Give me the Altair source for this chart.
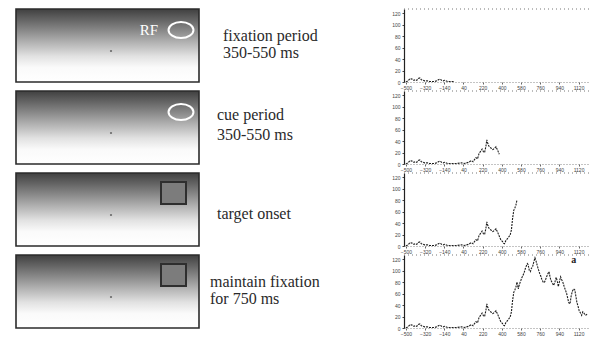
import altair as alt
import pandas as pd

# ---- data ----
times = [-500, -480, -460, -442, -425, -410, -398, -385, -369, -355, -340, -325, -300, -280,
         -252, -230, -210, -195, -179, -165, -150, -135, -110, -80, -50, -18, 20, 50, 69, 90,
         113, 130, 145, 157, 172, 186, 200, 215, 228, 238, 250, 259, 268, 279, 290, 303, 315,
         332, 345, 355, 365, 376, 390, 405, 415, 425, 437, 449, 462, 478, 490, 501, 512, 522,
         532, 542, 555, 565, 577, 589, 600, 609, 620, 630, 640, 647, 658, 668, 678, 688, 700,
         711, 722, 732, 743, 755, 766, 776, 788, 799, 810, 822, 833, 843, 853, 863, 875, 886,
         898, 910, 920, 930, 940, 951, 962, 974, 985, 997, 1008, 1018, 1028, 1040, 1050, 1062,
         1073, 1085, 1095, 1105, 1115, 1126, 1138, 1149, 1160, 1170, 1185, 1200]
rates = [0, 2, 6, 5, 3, 4, 3, 6, 7, 4, 3, 2, 2, 1,
         1, 1, 2, 4, 5, 3, 2, 3, 1, 1, 1, 1, 2, 1, 2, 3,
         6, 4, 8, 11, 9, 18, 22, 26, 21, 20, 30, 42, 36, 31, 29, 27, 25,
         27, 30, 26, 22, 17, 11, 8, 5, 4, 9, 12, 15, 19, 28, 48, 62, 66,
         71, 80, 68, 76, 82, 88, 92, 96, 103, 108, 112, 110, 100, 98, 104, 106, 115,
         122, 116, 109, 102, 95, 90, 84, 80, 79, 84, 90, 95, 98, 88, 82, 78, 74,
         80, 88, 82, 72, 80, 89, 84, 79, 72, 66, 60, 52, 44, 42, 55, 64,
         68, 66, 55, 44, 38, 30, 26, 22, 28, 26, 22, 24]
panel_end = [-40, 380, 542, 1200]
panel_text = ["fixation period\n350-550 ms", "cue period\n350-550 ms",
              "target onset", "maintain fixation\nfor 750 ms"]
panel_marker = ["circle", "circle", "square", "square"]
rf_label = ["RF", "", "", ""]
corner_label = ["", "", "", "a"]
y_ticks = [0, 20, 40, 60, 80, 100, 120]
x_ticks = [-500, -320, -140, 40, 220, 400, 580, 760, 940, 1120]

df = pd.DataFrame({"t": times, "r": rates})

# ---- layout constants ----
W_L, H = 380, 73
PLOT_W = 185
text_x = [215, 209, 209, 202]
text_y = [19, 16, 33, 19]
text_lh = [17, 20, 17, 17]

ELLIPSE = "M-1,0A1,0.64,0,1,0,1,0A1,0.64,0,1,0,-1,0Z"

grad = alt.Gradient(
    gradient="linear",
    stops=[alt.GradientStop(color="#404040", offset=0),
           alt.GradientStop(color="#767676", offset=0.22),
           alt.GradientStop(color="#b0b0b0", offset=0.45),
           alt.GradientStop(color="#e2e2e2", offset=0.65),
           alt.GradientStop(color="#fafafa", offset=0.8),
           alt.GradientStop(color="#ffffff", offset=1)],
    x1=0, x2=0, y1=0, y2=1)


def illus(i):
    base = alt.Chart(pd.DataFrame({"label": [panel_text[i]], "rf": [rf_label[i]]}))
    box = base.mark_rect(fill=grad, stroke="#2b2b2b", strokeWidth=1.6).encode(
        x=alt.value(8), x2=alt.value(191), y=alt.value(0), y2=alt.value(H))
    dot = base.mark_point(filled=True, color="#6a6a6a", size=5, opacity=1).encode(
        x=alt.value(103), y=alt.value(42))
    layers = [box, dot]
    if panel_marker[i] == "circle":
        layers.append(base.mark_point(shape=ELLIPSE, size=625, filled=False,
                                      stroke="white", strokeWidth=2, opacity=1).encode(
            x=alt.value(173), y=alt.value(21)))
    else:
        layers.append(base.mark_rect(fill="#7c7c7c", stroke="#2e2e2e", strokeWidth=2).encode(
            x=alt.value(153), x2=alt.value(178), y=alt.value(9), y2=alt.value(31)))
    if rf_label[i]:
        layers.append(base.mark_text(font="Liberation Serif", fontSize=15, color="white",
                                     align="center", baseline="middle").encode(
            x=alt.value(141), y=alt.value(21), text="rf:N"))
    layers.append(base.mark_text(font="Liberation Serif", fontSize=16, color="#2a2a2a",
                                 align="left", baseline="top", lineBreak="\n",
                                 lineHeight=text_lh[i]).encode(
        x=alt.value(text_x[i]), y=alt.value(text_y[i]), text="label:N"))
    return alt.layer(*layers).properties(width=W_L, height=H)


xaxis = alt.Axis(values=x_ticks, title=None, format="d", labelFontSize=5,
                 labelColor="#444", labelPadding=1, tickSize=2, tickColor="#666",
                 domainDash=[1, 2], domainColor="#888", grid=False,
                 labelFlush=False, labelOverlap=False)
yaxis = alt.Axis(values=y_ticks, title=None, format="d", labelFontSize=5,
                 labelColor="#444", labelPadding=2, tickSize=2, tickColor="#444",
                 domainColor="#222", domainWidth=1.2, grid=False,
                 labelFlush=False, labelOverlap=False)
xscale = alt.Scale(domain=[-518, 1218], nice=False, zero=False)
yscale = alt.Scale(domain=[0, 127], nice=False)


def plot(i):
    d = df[df.t <= panel_end[i]]
    xs = alt.X("t:Q", scale=xscale, axis=xaxis)
    ys = alt.Y("r:Q", scale=yscale, axis=yaxis)
    line = alt.Chart(d).mark_line(color="#1e1e1e", strokeWidth=1.1, strokeDash=[2, 1],
                                  clip=True).encode(x=xs, y=ys)
    top = alt.Chart(pd.DataFrame({"r": [127]})).mark_rule(
        strokeDash=[1, 3], color="#777", strokeWidth=1).encode(y=ys)
    layers = [line, top]
    if corner_label[i]:
        layers.append(alt.Chart(pd.DataFrame({"t": [1076], "r": [119], "s": [corner_label[i]]}))
                      .mark_text(font="Liberation Serif", fontSize=10, fontWeight="bold",
                                 color="#222").encode(x=xs, y=ys, text="s:N"))
    return alt.layer(*layers).properties(width=PLOT_W, height=H)


left = alt.vconcat(*[illus(i) for i in range(4)], spacing=9, bounds="flush")
right = alt.vconcat(*[plot(i) for i in range(4)], spacing=9, bounds="flush")
chart = alt.hconcat(left, right, spacing=3).properties(padding=0).configure_view(
    strokeWidth=0)

chart.save("out.html", embed_options={"renderer": "svg", "actions": False})
